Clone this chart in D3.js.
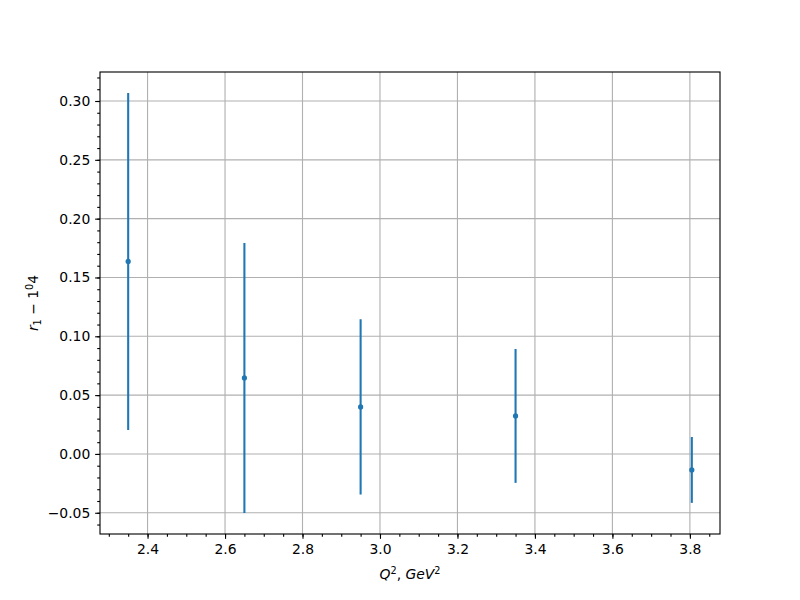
<!DOCTYPE html>
<html><head><meta charset="utf-8">
<script src="https://cdn.jsdelivr.net/npm/d3@7"></script>
<style>body{margin:0;background:#fff}svg{display:block;font-family:"DejaVu Sans",sans-serif}</style>
</head><body><svg id="c" width="800" height="600"></svg>
<script>
const xVals = [2.35, 2.65, 2.95, 3.35, 3.805];
const yVals = [0.1636, 0.0646, 0.040, 0.0323, -0.0136];
const yErr = [0.1432, 0.1148, 0.0745, 0.0569, 0.028];
const xTicks = [2.4, 2.6, 2.8, 3.0, 3.2, 3.4, 3.6, 3.8];
const yTicks = [-0.05, 0.00, 0.05, 0.10, 0.15, 0.20, 0.25, 0.30];

const svg = d3.select("#c");
const L=100,R=720,T=72,B=534;
const xmin=d3.min(xVals), xmax=d3.max(xVals);
const lo=d3.min(yVals.map((v,i)=>v-yErr[i])), hi=d3.max(yVals.map((v,i)=>v+yErr[i]));
const xs=d3.scaleLinear().domain([xmin-0.05*(xmax-xmin), xmax+0.05*(xmax-xmin)]).range([L,R]);
const ys=d3.scaleLinear().domain([lo-0.05*(hi-lo), hi+0.05*(hi-lo)]).range([B,T]);
const fmt=d=>d3.format(".2f")(d).replace("-","\u2212");

// grid
const g=svg.append("g");
xTicks.forEach(t=>g.append("line").attr("x1",xs(t)).attr("x2",xs(t)).attr("y1",T).attr("y2",B).attr("stroke","#b0b0b0").attr("stroke-width",0.8*100/72));
yTicks.forEach(t=>g.append("line").attr("y1",ys(t)).attr("y2",ys(t)).attr("x1",L).attr("x2",R).attr("stroke","#b0b0b0").attr("stroke-width",0.8*100/72));

// axes
const xMinor=d3.range(2.3,3.9,0.05).filter(v=>xs(v)>=L-0.1&&xs(v)<=R+0.1);
const yMinor=d3.range(-0.07,0.33,0.01).filter(v=>ys(v)<=B+0.1&&ys(v)>=T-0.1);
const xa=d3.axisBottom(xs).tickValues(xTicks).tickFormat(d3.format(".1f")).tickSizeInner(4.86).tickSizeOuter(0).tickPadding(4.86);
const xam=d3.axisBottom(xs).tickValues(xMinor).tickFormat("").tickSizeInner(2.78).tickSizeOuter(0);
const ya=d3.axisLeft(ys).tickValues(yTicks).tickFormat(fmt).tickSizeInner(4.86).tickSizeOuter(0).tickPadding(4.86);
const yam=d3.axisLeft(ys).tickValues(yMinor).tickFormat("").tickSizeInner(2.78).tickSizeOuter(0);
[[xam,`translate(0,${B})`],[xa,`translate(0,${B})`],[yam,`translate(${L},0)`],[ya,`translate(${L},0)`]].forEach(([a,tr])=>{
  const ag=svg.append("g").attr("transform",tr).call(a);
  ag.select(".domain").remove();
  ag.selectAll("line").attr("stroke","#000").attr("stroke-width",0.8*100/72);
  ag.selectAll("text").attr("fill","#000").attr("font-size",13.9).attr("font-family","DejaVu Sans");
});

// errorbars
const c="#1f77b4";
svg.append("g").selectAll("line").data(xVals).join("line")
 .attr("x1",(d)=>xs(d)).attr("x2",d=>xs(d))
 .attr("y1",(d,i)=>ys(yVals[i]-yErr[i])).attr("y2",(d,i)=>ys(yVals[i]+yErr[i]))
 .attr("stroke",c).attr("stroke-width",2.08);
svg.append("g").selectAll("circle").data(xVals).join("circle")
 .attr("cx",d=>xs(d)).attr("cy",(d,i)=>ys(yVals[i])).attr("r",2.6).attr("fill",c);

// frame
svg.append("rect").attr("x",L).attr("y",T).attr("width",R-L).attr("height",B-T).attr("fill","none").attr("stroke","#000").attr("stroke-width",0.8*100/72);

// labels
const xl=svg.append("text").attr("x",(L+R)/2).attr("y",579).attr("text-anchor","middle").attr("font-size",13.9);
xl.append("tspan").attr("font-style","italic").text("Q");
xl.append("tspan").attr("font-size",9.7).attr("dy",-5).text("2");
xl.append("tspan").attr("dy",5).text(", ");
xl.append("tspan").attr("font-style","italic").text("GeV");
xl.append("tspan").attr("font-size",9.7).attr("dy",-5).text("2");

const yl=svg.append("text").attr("transform",`translate(38,${(T+B)/2}) rotate(-90)`).attr("text-anchor","middle").attr("font-size",13.9);
yl.append("tspan").attr("font-style","italic").text("r");
yl.append("tspan").attr("font-size",9.7).attr("dy",3).text("1");
yl.append("tspan").attr("dy",-3).text(" \u2212 1");
yl.append("tspan").attr("font-size",9.7).attr("dy",-5).text("0");
yl.append("tspan").attr("dy",5).text("4");
</script></body></html>
